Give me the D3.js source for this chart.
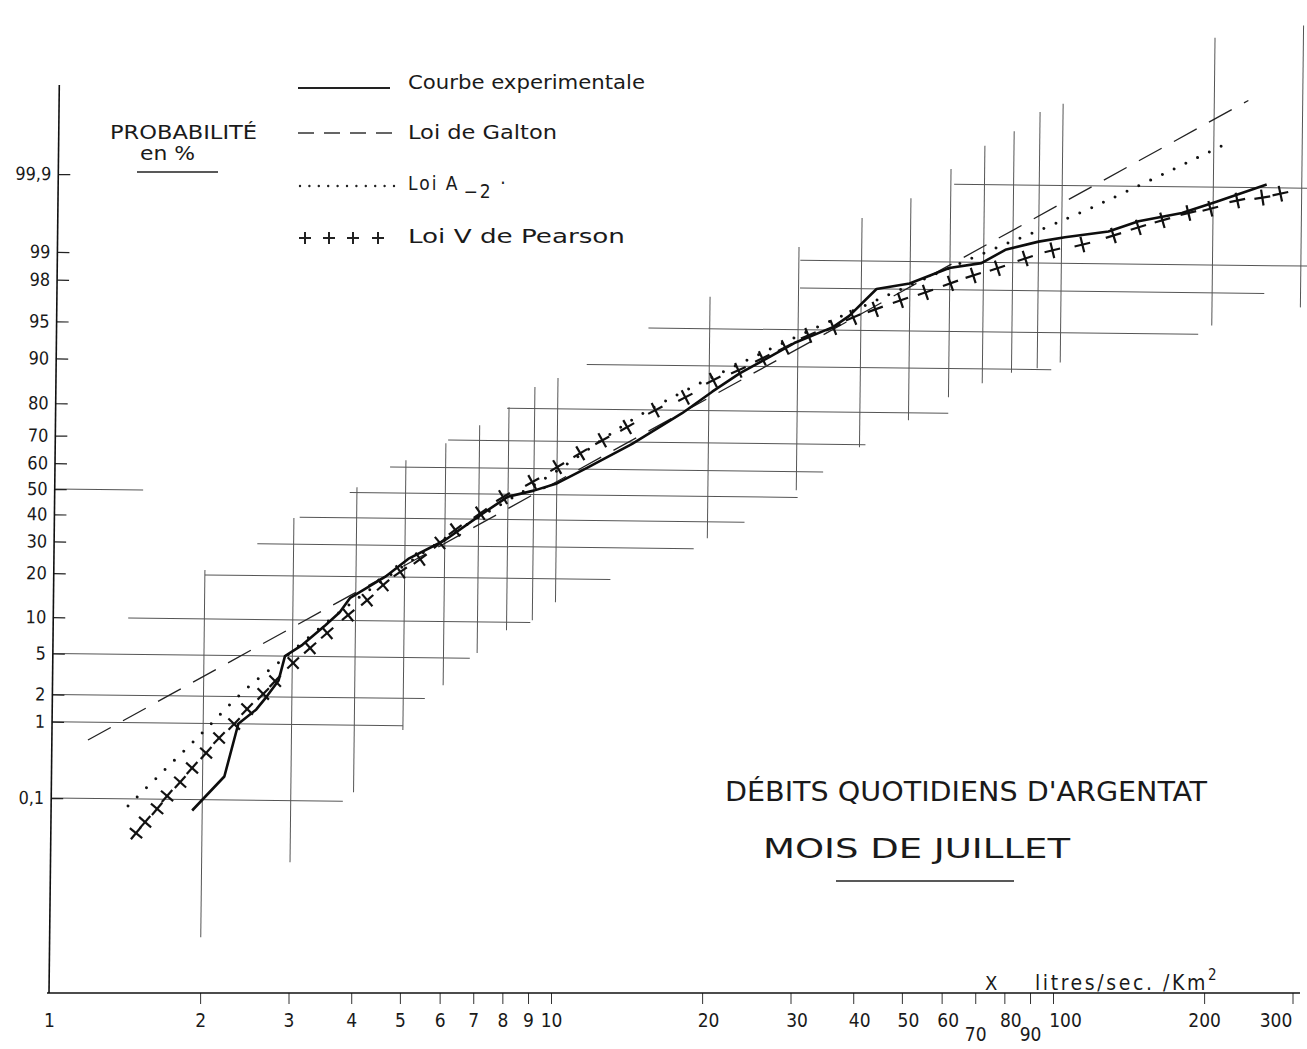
<!DOCTYPE html>
<html>
<head>
<meta charset="utf-8">
<script src="https://cdn.jsdelivr.net/npm/d3@7"></script>
<style>
  body { margin: 0; background: #fff; }
  svg { display: block; }
  text { font-family: "DejaVu Sans Condensed", "DejaVu Sans", sans-serif; fill: #1a1a1a; }
</style>
</head>
<body>
<svg id="chart" width="1307" height="1049"></svg>
<script>
// ---- data (x in litres/sec/km2, probabilities in %) ----
const xTicks = [1, 2, 3, 4, 5, 6, 7, 8, 9, 10, 20, 30, 40, 50, 60, 70, 80, 90, 100, 200, 300];
const yTicks = [0.1, 1, 2, 5, 10, 20, 30, 40, 50, 60, 70, 80, 90, 95, 98, 99, 99.9];
const yTickLabels = ["0,1", "1", "2", "5", "10", "20", "30", "40", "50", "60", "70", "80", "90", "95", "98", "99", "99,9"];

// courbe experimentale
const expX = [1.91, 2.0, 2.21, 2.35, 2.55, 2.67, 2.82, 2.9, 3.14, 3.49, 3.72, 3.9, 4.57, 5.1, 6.0, 7.1, 8.0, 9.0, 10.0, 11.5, 14.1, 17.7, 20.3, 23.0, 26.0, 29.5, 35.2, 37.9, 42.9, 49.9, 59.8, 69.3, 77.3, 90, 101.5, 123.9, 142.2, 173.4, 203, 255.4];
const expP = [0.069, 0.1, 0.215, 1.0, 1.46, 2.0, 2.95, 5.0, 6.3, 9.2, 11.5, 14.6, 20, 25.7, 32, 42, 49, 51.5, 54.4, 60.6, 69.4, 79.2, 84.8, 88.7, 91.3, 93.5, 95.3, 96.3, 98.0, 98.26, 98.83, 98.98, 99.29, 99.44, 99.51, 99.59, 99.70, 99.77, 99.84, 99.91];

// loi de Galton
const galX = [1.18, 233.8];
const galP = [0.61, 99.996];

// loi A-2
const a2X = [1.423, 1.973, 2.42, 2.81, 3.90, 6.15, 9.70, 14.6, 24.5, 44.7, 69.8, 110.3, 208.9];
const a2P = [0.0786, 0.728, 2.34, 4.32, 13.2, 33.9, 57.6, 78.5, 91.5, 97.63, 99.21, 99.772, 99.977];

// loi V de Pearson
const pearX = [1.478, 1.54, 1.626, 1.701, 1.805, 1.905, 2.03, 2.153, 2.305, 2.445, 2.63, 2.776, 3.012, 3.253, 3.515, 3.867, 4.217, 4.532, 4.90, 5.365, 5.87, 6.29, 7.05, 7.82, 8.93, 10.01, 11.12, 12.29, 13.77, 15.65, 17.95, 20.39, 22.86, 25.5, 28.3, 31.45, 35.25, 38.6, 42.7, 47.9, 53.7, 60.2, 66.8, 74.6, 84.7, 95.9, 110.0, 126.8, 142.1, 158.6, 178.6, 197.5, 223.4, 250.5, 272.1];
const pearP = [0.030, 0.045, 0.072, 0.112, 0.177, 0.277, 0.436, 0.674, 0.99, 1.47, 2.14, 2.90, 4.34, 5.93, 7.95, 11.0, 14.1, 17.8, 21.5, 25.5, 31.0, 35.8, 42.3, 48.8, 54.8, 60.7, 65.9, 70.5, 74.9, 79.95, 83.4, 87.3, 89.27, 91.32, 92.94, 94.42, 95.27, 96.18, 96.81, 97.41, 97.86, 98.29, 98.60, 98.84, 99.11, 99.29, 99.40, 99.54, 99.64, 99.71, 99.77, 99.80, 99.847, 99.862, 99.879];

// hand drawn grid: horizontal pieces (level %, from x, to x)
const hLevel = [0.1, 1, 2, 5, 10, 20, 30, 40, 50, 50, 60, 70, 80, 90, 95, 98, 99, 99.9];
const hFrom  = [1, 1, 1, 1, 1.41, 2.0, 2.54, 3.08, 1, 3.87, 4.65, 6.06, 7.93, 11.4, 15.1, 30.2, 30.2, 60.9];
const hTo    = [3.81, 5.0, 5.52, 6.77, 8.92, 12.85, 18.8, 23.7, 1.5, 30.2, 33.9, 41.1, 60, 96, 188, 254, 310, 310];
// vertical pieces (x, top %, bottom %)
const vValue  = [2, 3, 4, 5, 6, 7, 8, 9, 10, 20, 30, 40, 50, 60, 70, 80, 90, 100, 200, 300];
const vTop    = [21.4, 39.6, 52, 62.6, 68.9, 74.97, 80.3, 85.4, 87.4, 97.5, 99.3, 99.70, 99.84, 99.94, 99.974, 99.985, 99.993, 99.995, 99.99974, 99.99986];
const vBottom = [0.0004, 0.0106, 0.136, 0.89, 2.76, 5.56, 8.69, 10.4, 14.1, 33.8, 52.8, 69.1, 77.9, 84.1, 87.3, 89.4, 90.2, 91.2, 95.85, 97.26];

// inverse normal (Acklam)
function probit(p) {
  const a = [-3.969683028665376e+01, 2.209460984245205e+02, -2.759285104469687e+02, 1.383577518672690e+02, -3.066479806614716e+01, 2.506628277459239e+00];
  const b = [-5.447609879822406e+01, 1.615858368580409e+02, -1.556989798598866e+02, 6.680131188771972e+01, -1.328068155288572e+01];
  const c = [-7.784894002430293e-03, -3.223964580411365e-01, -2.400758277161838e+00, -2.549671010029750e+00, 4.374664141464968e+00, 2.938163982698783e+00];
  const d = [7.784695709041462e-03, 3.224671290700398e-01, 2.445134137142996e+00, 3.754408661907416e+00];
  const pl = 0.02425;
  let q, r;
  if (p < pl) {
    q = Math.sqrt(-2 * Math.log(p));
    return (((((c[0]*q+c[1])*q+c[2])*q+c[3])*q+c[4])*q+c[5]) / ((((d[0]*q+d[1])*q+d[2])*q+d[3])*q+1);
  }
  if (p <= 1 - pl) {
    q = p - 0.5; r = q * q;
    return (((((a[0]*r+a[1])*r+a[2])*r+a[3])*r+a[4])*r+a[5])*q / (((((b[0]*r+b[1])*r+b[2])*r+b[3])*r+b[4])*r+1);
  }
  q = Math.sqrt(-2 * Math.log(1 - p));
  return -(((((c[0]*q+c[1])*q+c[2])*q+c[3])*q+c[4])*q+c[5]) / ((((d[0]*q+d[1])*q+d[2])*q+d[3])*q+1);
}

const svg = d3.select("#chart");
svg.append("rect").attr("width", 1307).attr("height", 1049).attr("fill", "#fff");

const x = d3.scaleLog().domain([1, 300]).range([49, 49 + 502 * Math.log10(300)]);
const y = d3.scaleLinear().domain([-3.09, 0, 3.09]).range([798, 489, 174]); // normal score -> px
const yp = p => y(probit(p / 100));

// the scanned sheet is a little tilted, the x axis is not
const plot = svg.append("g").attr("transform", "rotate(0.65, 49, 993)");

// grid
const grid = plot.append("g").attr("stroke", "#555").attr("stroke-width", 1);
grid.selectAll("line.h")
  .data(hLevel)
  .join("line")
  .attr("class", "h")
  .attr("x1", (d, i) => x(hFrom[i]))
  .attr("x2", (d, i) => x(hTo[i]))
  .attr("y1", d => yp(d))
  .attr("y2", d => yp(d));
grid.selectAll("line.v")
  .data(vValue)
  .join("line")
  .attr("class", "v")
  .attr("x1", d => x(d))
  .attr("x2", d => x(d))
  .attr("y1", (d, i) => yp(vTop[i]))
  .attr("y2", (d, i) => yp(vBottom[i]));

// y axis
const yAxis = d3.axisLeft(y)
  .tickValues(yTicks.map(p => probit(p / 100)))
  .tickFormat((d, i) => yTickLabels[i])
  .tickSize(-12)
  .tickPadding(7);
const gy = plot.append("g").attr("transform", "translate(49,0)").call(yAxis);
gy.select(".domain").remove();
gy.selectAll(".tick line").attr("stroke", "#222").attr("stroke-width", 1.2);
gy.selectAll(".tick text").style("font-size", "18px").attr("fill", "#1a1a1a");
plot.append("line")
  .attr("x1", 49).attr("x2", 49).attr("y1", 85).attr("y2", 993)
  .attr("stroke", "#111").attr("stroke-width", 1.6);

// series
const toPts = (xs, ps) => xs.map((v, i) => [x(v), yp(ps[i])]);
const line = d3.line();

plot.append("path")
  .attr("d", line(toPts(galX, galP)))
  .attr("fill", "none").attr("stroke", "#222").attr("stroke-width", 1.3)
  .attr("stroke-dasharray", "26 14");

plot.append("path")
  .attr("d", d3.line().curve(d3.curveCatmullRom)(toPts(a2X, a2P)))
  .attr("fill", "none").attr("stroke", "#111").attr("stroke-width", 3)
  .attr("stroke-linecap", "round").attr("stroke-dasharray", "0 13");

plot.append("path")
  .attr("d", line(toPts(expX, expP)))
  .attr("fill", "none").attr("stroke", "#0d0d0d").attr("stroke-width", 2.6)
  .attr("stroke-linejoin", "round");

// pearson crosses, one arm along the curve
const pear = toPts(pearX, pearP);
const arm = 8;
const crosses = plot.append("g").attr("stroke", "#111").attr("stroke-width", 2.2);
pear.forEach((p, i) => {
  const a = pear[Math.max(0, i - 1)], b = pear[Math.min(pear.length - 1, i + 1)];
  const ang = Math.atan2(b[1] - a[1], b[0] - a[0]) * 180 / Math.PI;
  const g = crosses.append("g").attr("transform", `translate(${p[0]},${p[1]}) rotate(${ang})`);
  g.append("line").attr("x1", -arm).attr("x2", arm).attr("y1", 0).attr("y2", 0);
  g.append("line").attr("x1", 0).attr("x2", 0).attr("y1", -arm).attr("y2", arm);
});

// x axis
const xAxis = d3.axisBottom(x)
  .tickValues(xTicks)
  .tickFormat(d3.format("d"))
  .tickSize(11)
  .tickSizeOuter(0)
  .tickPadding(10);
const gx = svg.append("g").attr("transform", "translate(0,993)").call(xAxis);
gx.select(".domain").remove();
gx.selectAll(".tick line").attr("stroke", "#333").attr("stroke-width", 1).filter(d => d === 1).remove();
gx.selectAll(".tick text")
  .style("font-size", "19px")
  .attr("fill", "#1a1a1a")
  .attr("dy", d => (d === 70 || d === 90) ? "1.4em" : "0.71em")
  .attr("dx", d => d === 100 ? 12 : d === 300 ? -17 : (d >= 20 && d <= 80 && d !== 70) ? 6 : 0);
svg.append("line")
  .attr("x1", 47).attr("x2", 1300).attr("y1", 993).attr("y2", 993)
  .attr("stroke", "#111").attr("stroke-width", 1.6);

svg.append("text").attr("x", 985).attr("y", 990).style("font-size", "20px").text("X");
const unit = svg.append("text").attr("x", 1035).attr("y", 990)
  .style("font-size", "21px").style("letter-spacing", "2.6px");
unit.append("tspan").text("litres/sec. /Km");
unit.append("tspan").attr("dy", -10).style("font-size", "15px").text("2");

// left title
svg.append("text").attr("x", 110).attr("y", 139).attr("textLength", 147).attr("lengthAdjust", "spacingAndGlyphs")
  .style("font-size", "19px").text("PROBABILITÉ");
svg.append("text").attr("x", 140).attr("y", 160).attr("textLength", 55).attr("lengthAdjust", "spacingAndGlyphs")
  .style("font-size", "19px").text("en %");
svg.append("line").attr("x1", 137).attr("x2", 218).attr("y1", 172).attr("y2", 172)
  .attr("stroke", "#222").attr("stroke-width", 1.5);

// legend
const legY = [88, 133, 186, 238];
const legText = svg.append("g");
svg.append("line").attr("x1", 298).attr("x2", 390).attr("y1", legY[0]).attr("y2", legY[0])
  .attr("stroke", "#222").attr("stroke-width", 2);
svg.append("line").attr("x1", 298).attr("x2", 392).attr("y1", legY[1]).attr("y2", legY[1])
  .attr("stroke", "#333").attr("stroke-width", 1.3).attr("stroke-dasharray", "16 10");
svg.append("line").attr("x1", 300).attr("x2", 395).attr("y1", legY[2]).attr("y2", legY[2])
  .attr("stroke", "#222").attr("stroke-width", 2.4).attr("stroke-linecap", "round").attr("stroke-dasharray", "0 9.4");
[305, 329, 353, 378].forEach(cx => {
  svg.append("path").attr("d", `M${cx - 6},${legY[3]}H${cx + 6}M${cx},${legY[3] - 6}V${legY[3] + 6}`)
    .attr("stroke", "#222").attr("stroke-width", 2);
});
legText.append("text").attr("x", 408).attr("y", 89).attr("textLength", 237).attr("lengthAdjust", "spacingAndGlyphs")
  .style("font-size", "19px").attr("fill", "#333").text("Courbe experimentale");
legText.append("text").attr("x", 408).attr("y", 139).attr("textLength", 149).attr("lengthAdjust", "spacingAndGlyphs")
  .style("font-size", "19px").attr("fill", "#333").text("Loi de Galton");
const la = legText.append("text").attr("x", 408).attr("y", 190).style("font-size", "19px")
  .style("letter-spacing", "2px").attr("fill", "#333");
la.append("tspan").text("Loi  A");
la.append("tspan").attr("dy", 8).attr("dx", 4).text("−2");
la.append("tspan").attr("dy", -8).text(" ·");
legText.append("text").attr("x", 408).attr("y", 243).attr("textLength", 217).attr("lengthAdjust", "spacingAndGlyphs")
  .style("font-size", "19px").attr("fill", "#333").text("Loi  V  de Pearson");

// title block
svg.append("text").attr("x", 725).attr("y", 801).attr("textLength", 482).attr("lengthAdjust", "spacingAndGlyphs")
  .style("font-size", "27px").style("font-weight", 300).text("DÉBITS QUOTIDIENS D'ARGENTAT");
svg.append("text").attr("x", 763).attr("y", 858).attr("textLength", 307).attr("lengthAdjust", "spacingAndGlyphs")
  .style("font-size", "27px").style("font-weight", 300).text("MOIS DE JUILLET");
svg.append("line").attr("x1", 836).attr("x2", 1014).attr("y1", 881).attr("y2", 881)
  .attr("stroke", "#222").attr("stroke-width", 1.5);
</script>
</body>
</html>
